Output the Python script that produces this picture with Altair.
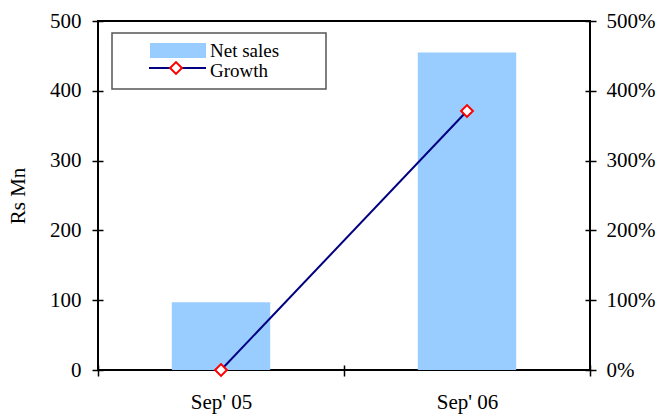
import altair as alt
import pandas as pd

periods = ["Sep' 05", "Sep' 06"]
net_sales = [97, 455]
growth = [0.0, 3.71]
left_ticks = [0, 100, 200, 300, 400, 500]
right_ticks = [0, 1, 2, 3, 4, 5]

df = pd.DataFrame({"period": periods, "sales": net_sales, "growth": growth})

FONT = "Liberation Serif"
FS = 21

x_enc = alt.X("period:N", sort=periods, title=None,
              scale=alt.Scale(paddingInner=0, paddingOuter=0),
              axis=alt.Axis(labelAngle=0, tickBand="extent", domain=False,
                            offset=-5, tickSize=11, tickColor="black", tickWidth=1.5,
                            labelPadding=15, labelFont=FONT, labelFontSize=FS,
                            labelColor="black"))

bars = alt.Chart(df).mark_bar(color="#99CCFF", width=alt.RelativeBandSize(0.4)).encode(
    x=x_enc,
    y=alt.Y("sales:Q", title="Rs Mn", scale=alt.Scale(domain=[0, 500]),
            axis=alt.Axis(values=left_ticks, grid=False, domain=False, offset=-5,
                          tickSize=11, tickColor="black", tickWidth=1.5,
                          labelPadding=11, labelFont=FONT, labelFontSize=FS,
                          labelColor="black", titleFont=FONT, titleFontSize=FS,
                          titleFontWeight="normal", titleColor="black",
                          titlePadding=21)),
)

y_right = alt.Y("growth:Q", title=None, scale=alt.Scale(domain=[0, 5]),
                axis=alt.Axis(orient="right", values=right_ticks, format=".0%",
                              grid=False, domain=False, offset=-5, tickSize=11,
                              tickColor="black", tickWidth=1.5, labelPadding=10,
                              labelFont=FONT, labelFontSize=FS, labelColor="black"))

line = alt.Chart(df).mark_line(color="#000080", strokeWidth=2).encode(x=x_enc, y=y_right)
pts = alt.Chart(df).mark_point(shape="diamond", filled=True, fill="white",
                               stroke="red", strokeWidth=2, size=140, opacity=1).encode(
    x=x_enc, y=y_right)

growth_layer = alt.layer(line, pts)

LFS = 19
one = pd.DataFrame({"a": [0]})
leg_box = alt.Chart(one).mark_rect(fill="white", stroke="#555555", strokeWidth=1.5).encode(
    x=alt.value(14), x2=alt.value(228), y=alt.value(12), y2=alt.value(68))
leg_bar = alt.Chart(one).mark_rect(fill="#99CCFF").encode(
    x=alt.value(52), x2=alt.value(108), y=alt.value(22), y2=alt.value(37))
leg_line = alt.Chart(one).mark_rule(color="#000080", strokeWidth=2).encode(
    x=alt.value(51), x2=alt.value(108), y=alt.value(47))
leg_pt = alt.Chart(one).mark_point(shape="diamond", filled=True, fill="white",
                                   stroke="red", strokeWidth=2, size=140, opacity=1).encode(
    x=alt.value(78), y=alt.value(47))
leg_t1 = alt.Chart(one).mark_text(text="Net sales", align="left", baseline="alphabetic",
                                  font=FONT, fontSize=LFS, color="black").encode(
    x=alt.value(112), y=alt.value(36))
leg_t2 = alt.Chart(one).mark_text(text="Growth", align="left", baseline="alphabetic",
                                  font=FONT, fontSize=LFS, color="black").encode(
    x=alt.value(112), y=alt.value(56))

chart = alt.layer(bars, growth_layer, leg_box, leg_bar, leg_line, leg_pt, leg_t1, leg_t2
                  ).resolve_scale(y="independent").properties(
    width=492, height=349,
    autosize=alt.AutoSizeParams(type="none"),
    padding={"left": 98, "top": 21, "right": 75, "bottom": 46},
    background="white",
).configure_view(stroke="black", strokeWidth=2)

chart.save("out.html", embed_options={"renderer": "svg", "actions": False})
